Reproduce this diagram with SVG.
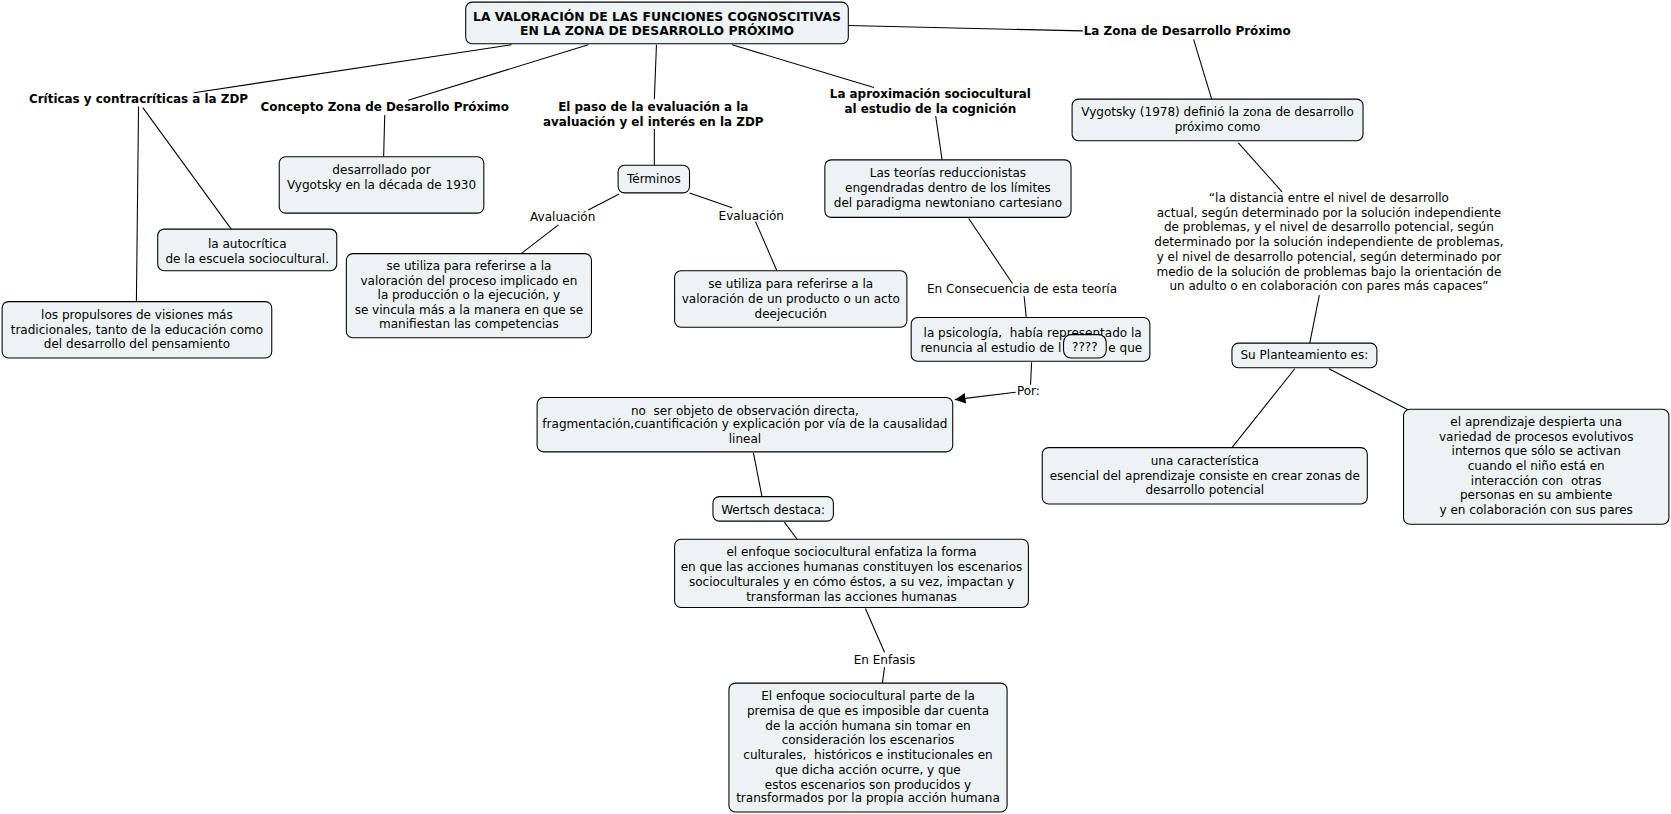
<svg xmlns="http://www.w3.org/2000/svg" width="1671" height="814" viewBox="0 0 1671 814">
<defs>
<style>
.b{fill:#edf3f5;stroke:#000;stroke-width:1}
.t{font-family:"DejaVu Sans",Verdana,sans-serif;font-size:11.3px;fill:#000;text-anchor:middle}
.h{font-family:"DejaVu Sans",Verdana,sans-serif;font-size:11.2px;font-weight:bold;fill:#000;text-anchor:middle}
.ht{font-size:11.6px}
.c line{stroke:#000;stroke-width:1}
</style>
<marker id="arr" viewBox="0 0 10 10" refX="10" refY="5" markerWidth="10" markerHeight="10" markerUnits="userSpaceOnUse" orient="auto">
<path d="M0,0 L10,5 L0,10 Z" fill="#000"/>
</marker>
</defs>
<rect width="1671" height="814" fill="#fff"/>
<g transform="scale(1.0657)">
<g class="c" id="connectors">
<line x1="480" y1="42" x2="182" y2="87"/>
<line x1="552" y1="42" x2="383" y2="94"/>
<line x1="616" y1="42" x2="614" y2="93"/>
<line x1="687" y1="42" x2="820" y2="82"/>
<line x1="796" y1="24" x2="1016" y2="29"/>
<line x1="130" y1="100" x2="128" y2="283"/>
<line x1="134" y1="101" x2="217" y2="215"/>
<line x1="361" y1="108" x2="360" y2="147"/>
<line x1="614" y1="121" x2="614" y2="155"/>
<line x1="581" y1="182" x2="552" y2="197"/>
<line x1="524" y1="211" x2="489" y2="238"/>
<line x1="647" y1="181" x2="687" y2="195"/>
<line x1="709" y1="208" x2="729" y2="254"/>
<line x1="878" y1="109" x2="884" y2="150"/>
<line x1="909" y1="205" x2="950" y2="266"/>
<line x1="961" y1="278" x2="963" y2="298"/>
<line x1="968" y1="340" x2="967" y2="361"/>
<line x1="953" y1="368" x2="896" y2="375" marker-end="url(#arr)"/>
<line x1="707" y1="425" x2="715" y2="466"/>
<line x1="736" y1="490" x2="748" y2="506"/>
<line x1="812" y1="571" x2="830" y2="612"/>
<line x1="830" y1="626" x2="828" y2="641"/>
<line x1="1120" y1="37" x2="1137" y2="93"/>
<line x1="1162" y1="134" x2="1203" y2="180"/>
<line x1="1238" y1="277" x2="1229" y2="322"/>
<line x1="1215" y1="346" x2="1156" y2="420"/>
<line x1="1247" y1="346" x2="1322" y2="385"/>
</g>

<g id="title">
<rect class="b" x="437" y="2" width="359" height="39" rx="6"/>
<text class="h ht" x="616.5" y="20">LA VALORACIÓN DE LAS FUNCIONES COGNOSCITIVAS</text>
<text class="h ht" x="616.5" y="33">EN LA ZONA DE DESARROLLO PRÓXIMO</text>
</g>

<g id="criticas"><text class="h" x="130" y="97">Críticas y contracríticas a la ZDP</text></g>
<g id="concepto"><text class="h" x="361" y="104">Concepto Zona de Desarollo Próximo</text></g>
<g id="paso">
<text class="h" x="613" y="104">El paso de la evaluación a la</text>
<text class="h" x="613" y="118">avaluación y el interés en la ZDP</text>
</g>
<g id="aproximacion">
<text class="h" x="873" y="92">La aproximación sociocultural</text>
<text class="h" x="873" y="106">al estudio de la cognición</text>
</g>
<g id="zona"><text class="h" x="1114" y="33">La Zona de Desarrollo Próximo</text></g>

<g id="propulsores">
<rect class="b" x="2" y="283" width="253" height="53" rx="6"/>
<text class="t" x="128.5" y="299">los propulsores de visiones más</text>
<text class="t" x="128.5" y="313">tradicionales, tanto de la educación como</text>
<text class="t" x="128.5" y="327">del desarrollo del pensamiento</text>
</g>
<g id="autocritica">
<rect class="b" x="148" y="215" width="168" height="39" rx="6"/>
<text class="t" x="232" y="233">la autocrítica</text>
<text class="t" x="232" y="247">de la escuela sociocultural.</text>
</g>
<g id="desarrollado">
<rect class="b" x="262" y="147" width="192" height="53" rx="6"/>
<text class="t" x="358" y="163">desarrollado por</text>
<text class="t" x="358" y="177">Vygotsky en la década de 1930</text>
</g>
<g id="terminos">
<rect class="b" x="580" y="155" width="67" height="26" rx="6"/>
<text class="t" x="613.5" y="172">Términos</text>
</g>
<g id="avaluacion"><text class="t" x="528" y="207">Avaluación</text></g>
<g id="evaluacion"><text class="t" x="705" y="206">Evaluación</text></g>
<g id="utiliza1">
<rect class="b" x="325" y="238" width="230" height="79" rx="6"/>
<text class="t" x="440" y="253">se utiliza para referirse a la</text>
<text class="t" x="440" y="267">valoración del proceso implicado en</text>
<text class="t" x="440" y="281">la producción o la ejecución, y</text>
<text class="t" x="440" y="295">se vincula más a la manera en que se</text>
<text class="t" x="440" y="308">manifiestan las competencias</text>
</g>
<g id="utiliza2">
<rect class="b" x="633" y="254" width="218" height="53" rx="6"/>
<text class="t" x="742" y="270">se utiliza para referirse a la</text>
<text class="t" x="742" y="284">valoración de un producto o un acto</text>
<text class="t" x="742" y="298">deejecución</text>
</g>
<g id="teorias">
<rect class="b" x="774" y="150" width="231" height="54" rx="6"/>
<text class="t" x="889.5" y="166">Las teorías reduccionistas</text>
<text class="t" x="889.5" y="180">engendradas dentro de los límites</text>
<text class="t" x="889.5" y="194">del paradigma newtoniano cartesiano</text>
</g>
<g id="consecuencia"><text class="t" x="959" y="275">En Consecuencia de esta teoría</text></g>
<g id="psicologia">
<rect class="b" x="855" y="298" width="224" height="41" rx="6"/>
<text class="t" x="969" y="316" xml:space="preserve">la psicología,  había representado la</text>
<text class="t" x="996" y="330" style="text-anchor:end">renuncia al estudio de l</text>
<text class="t" x="1040" y="330" style="text-anchor:start">e que</text>
</g>
<g id="interrogacion">
<rect class="b" x="998" y="314" width="40" height="22" rx="7"/>
<text class="t" x="1018" y="329">????</text>
</g>
<g id="por"><text class="t" x="965" y="371">Por:</text></g>
<g id="observacion">
<rect class="b" x="504" y="373" width="390" height="51" rx="6"/>
<text class="t" x="699" y="389" xml:space="preserve">no  ser objeto de observación directa,</text>
<text class="t" x="699" y="402">fragmentación,cuantificación y explicación por vía de la causalidad</text>
<text class="t" x="699" y="416">lineal</text>
</g>
<g id="wertsch">
<rect class="b" x="669" y="466" width="113" height="23" rx="6"/>
<text class="t" x="725.5" y="482">Wertsch destaca:</text>
</g>
<g id="enfoque1">
<rect class="b" x="633" y="506" width="332" height="64" rx="6"/>
<text class="t" x="799" y="522">el enfoque sociocultural enfatiza la forma</text>
<text class="t" x="799" y="536">en que las acciones humanas constituyen los escenarios</text>
<text class="t" x="799" y="550">socioculturales y en cómo éstos, a su vez, impactan y</text>
<text class="t" x="799" y="564">transforman las acciones humanas</text>
</g>
<g id="enfasis"><text class="t" x="830" y="623">En Enfasis</text></g>
<g id="enfoque2">
<rect class="b" x="684" y="641" width="261" height="121" rx="6"/>
<text class="t" x="814.5" y="657">El enfoque sociocultural parte de la</text>
<text class="t" x="814.5" y="671">premisa de que es imposible dar cuenta</text>
<text class="t" x="814.5" y="685">de la acción humana sin tomar en</text>
<text class="t" x="814.5" y="698">consideración los escenarios</text>
<text class="t" x="814.5" y="712" xml:space="preserve">culturales,  históricos e institucionales en</text>
<text class="t" x="814.5" y="726">que dicha acción ocurre, y que</text>
<text class="t" x="814.5" y="740">estos escenarios son producidos y</text>
<text class="t" x="814.5" y="753">transformados por la propia acción humana</text>
</g>
<g id="vygotsky">
<rect class="b" x="1006" y="93" width="273" height="39" rx="6"/>
<text class="t" x="1142.5" y="109">Vygotsky (1978) definió la zona de desarrollo</text>
<text class="t" x="1142.5" y="123">próximo como</text>
</g>
<g id="cita">
<text class="t" x="1247" y="190">“la distancia entre el nivel de desarrollo</text>
<text class="t" x="1247" y="204">actual, según determinado por la solución independiente</text>
<text class="t" x="1247" y="217">de problemas, y el nivel de desarrollo potencial, según</text>
<text class="t" x="1247" y="231">determinado por la solución independiente de problemas,</text>
<text class="t" x="1247" y="245">y el nivel de desarrollo potencial, según determinado por</text>
<text class="t" x="1247" y="259">medio de la solución de problemas bajo la orientación de</text>
<text class="t" x="1247" y="272">un adulto o en colaboración con pares más capaces”</text>
</g>
<g id="planteamiento">
<rect class="b" x="1156" y="322" width="136" height="23" rx="6"/>
<text class="t" x="1224" y="337">Su Planteamiento es:</text>
</g>
<g id="caracteristica">
<rect class="b" x="978" y="420" width="305" height="53" rx="6"/>
<text class="t" x="1130.5" y="436">una característica</text>
<text class="t" x="1130.5" y="450">esencial del aprendizaje consiste en crear zonas de</text>
<text class="t" x="1130.5" y="464">desarrollo potencial</text>
</g>
<g id="aprendizaje">
<rect class="b" x="1317" y="384" width="249" height="108" rx="6"/>
<text class="t" x="1441.5" y="400">el aprendizaje despierta una</text>
<text class="t" x="1441.5" y="414">variedad de procesos evolutivos</text>
<text class="t" x="1441.5" y="427">internos que sólo se activan</text>
<text class="t" x="1441.5" y="441">cuando el niño está en</text>
<text class="t" x="1441.5" y="455" xml:space="preserve">interacción con  otras</text>
<text class="t" x="1441.5" y="468">personas en su ambiente</text>
<text class="t" x="1441.5" y="482">y en colaboración con sus pares</text>
</g>
</g>
</svg>
